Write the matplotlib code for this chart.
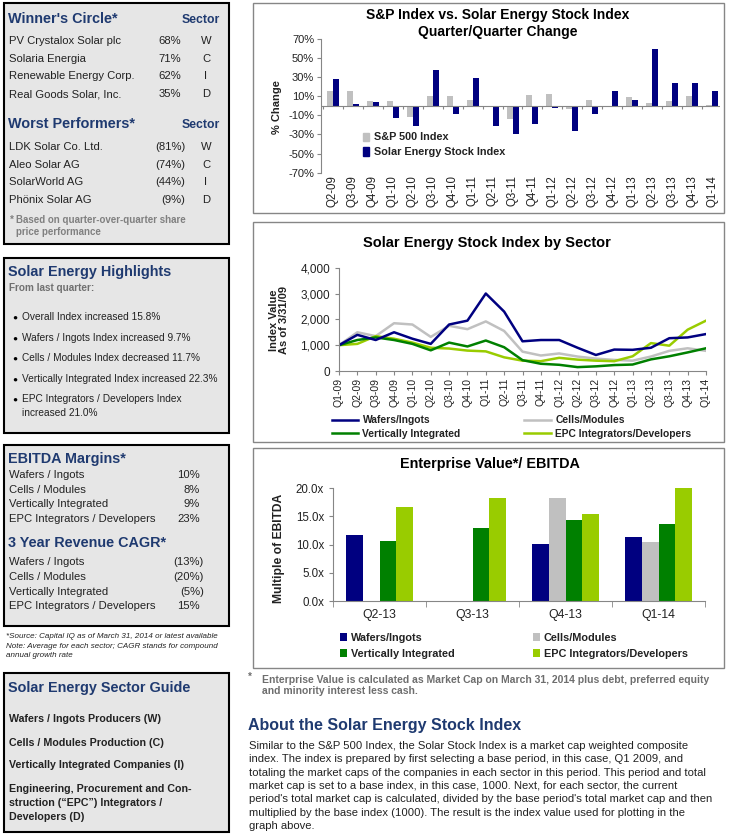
import numpy as np
import matplotlib
matplotlib.use('Agg')
import matplotlib.pyplot as plt
from matplotlib.patches import Rectangle, Patch
from matplotlib.ticker import FuncFormatter

plt.rcParams['font.family'] = ['Liberation Sans', 'DejaVu Sans']

# ------------------------------------------------------------
# data
# ------------------------------------------------------------
qoq_quarters = ['Q2-09', 'Q3-09', 'Q4-09', 'Q1-10', 'Q2-10', 'Q3-10', 'Q4-10',
                'Q1-11', 'Q2-11', 'Q3-11', 'Q4-11', 'Q1-12', 'Q2-12', 'Q3-12',
                'Q4-12', 'Q1-13', 'Q2-13', 'Q3-13', 'Q4-13', 'Q1-14']
sp500_change = [15, 15, 5, 5, -12, 10.5, 10, 5.5, 0, -14, 11, 12, -3, 5.5,
                -0.5, 9.5, 2.5, 5, 10, 1]
solar_change = [27.5, 1.7, 3.5, -12.5, -21, 37.6, -9, 28.6, -21, -30, -19, -2,
                -26, -8.4, 15.3, 5.6, 58.9, 23.7, 24, 15.8]

index_quarters = ['Q1-09'] + qoq_quarters
wafers_idx = [1000, 1400, 1200, 1500, 1250, 1050, 1800, 1950, 3000, 2300, 1150,
              1200, 1200, 900, 620, 830, 820, 900, 1270, 1300, 1430]
cells_idx = [1000, 1500, 1350, 1850, 1800, 1320, 1750, 1620, 1920, 1550, 750,
             600, 680, 560, 480, 430, 400, 560, 780, 880, 780]
vertical_idx = [1000, 1200, 1300, 1200, 1050, 800, 1100, 950, 1180, 920, 420,
                280, 240, 150, 180, 230, 250, 450, 570, 720, 880]
epc_idx = [1000, 1050, 1350, 1250, 1100, 900, 870, 790, 760, 530, 400, 380,
           510, 440, 400, 380, 570, 1080, 980, 1600, 1950]

ev_quarters = ['Q2-13', 'Q3-13', 'Q4-13', 'Q1-14']
ev_wafers = [11.8, np.nan, 10.2, 11.3]
ev_cells = [np.nan, np.nan, 18.3, 10.5]
ev_vertical = [10.7, 12.9, 14.4, 13.7]
ev_epc = [16.6, 18.3, 15.5, 20.1]

winners = ['PV Crystalox Solar plc', 'Solaria Energia', 'Renewable Energy Corp.',
           'Real Goods Solar, Inc.']
winners_pct = ['68%', '71%', '62%', '35%']
winners_sector = ['W', 'C', 'I', 'D']
losers = ['LDK Solar Co. Ltd.', 'Aleo Solar AG', 'SolarWorld AG', 'Phönix Solar AG']
losers_pct = ['(81%)', '(74%)', '(44%)', '(9%)']
losers_sector = ['W', 'C', 'I', 'D']

highlights = ['Overall Index increased 15.8%',
              'Wafers / Ingots Index increased 9.7%',
              'Cells / Modules Index decreased 11.7%',
              'Vertically Integrated Index increased 22.3%',
              'EPC Integrators / Developers Index\nincreased 21.0%']

sector_names = ['Wafers / Ingots', 'Cells / Modules', 'Vertically Integrated',
                'EPC Integrators / Developers']
ebitda_margin = ['10%', '8%', '9%', '23%']
revenue_cagr = ['(13%)', '(20%)', '(5%)', '15%']

guide_items = ['Wafers / Ingots Producers (W)',
               'Cells / Modules Production (C)',
               'Vertically Integrated Companies (I)',
               'Engineering, Procurement and Con-\nstruction (\u201cEPC\u201d) Integrators /\nDevelopers (D)']

about_lines = [
    'Similar to the S&P 500 Index, the Solar Stock Index is a market cap weighted composite',
    'index. The index is prepared by first selecting a base period, in this case, Q1 2009, and',
    'totaling the market caps of the companies in each sector in this period. This period and total',
    'market cap is set to a base index, in this case, 1000. Next, for each sector, the current',
    "period's total market cap is calculated, divided by the base period's total market cap and then",
    'multiplied by the base index (1000). The result is the index value used for plotting in the',
    'graph above.',
]

# colours
NAVY = '#000080'
GRAY = '#c0c0c0'
GREEN = '#008000'
LIME = '#99cc00'
HEAD = '#1f3a70'
PANEL = '#e6e6e6'
TXT = '#222222'
AXC = '#868686'

# ------------------------------------------------------------
# helpers working in pixels (top-left origin)
# ------------------------------------------------------------
W, H = 730, 838
fig = plt.figure(figsize=(W / 100, H / 100), dpi=100)


def box(x0, y0, x1, y1, fc, ec, lw):
    fig.patches.append(Rectangle((x0 / W, 1 - y1 / H), (x1 - x0) / W, (y1 - y0) / H,
                                 transform=fig.transFigure, facecolor=fc,
                                 edgecolor=ec, lw=lw, zorder=-5))


def txt(x, y, s, size, **kw):
    kw.setdefault('color', TXT)
    kw.setdefault('va', 'baseline')
    fig.text(x / W, 1 - y / H, s, fontsize=size, **kw)


def axes_px(x0, y0, x1, y1):
    return fig.add_axes([x0 / W, 1 - y1 / H, (x1 - x0) / W, (y1 - y0) / H])


HS = 10.4   # heading size in the side panels
RS = 8.1    # row size in the side panels

# ------------------------------------------------------------
# left column panels
# ------------------------------------------------------------
box(4, 3, 229, 244, PANEL, 'black', 1.5)
txt(8, 22.7, "Winner's Circle*", HS, weight='bold', color=HEAD)
txt(220, 22.7, 'Sector', 8.8, weight='bold', color=HEAD, ha='right')
for i, (n, p, s) in enumerate(zip(winners, winners_pct, winners_sector)):
    y = 44 + i * 17.7
    txt(9, y, n, RS)
    txt(181, y, p, RS, ha='right')
    txt(206, y, s, RS, ha='center')
txt(8, 128, 'Worst Performers*', HS, weight='bold', color=HEAD)
txt(220, 128, 'Sector', 8.8, weight='bold', color=HEAD, ha='right')
for i, (n, p, s) in enumerate(zip(losers, losers_pct, losers_sector)):
    y = 150 + i * 17.7
    txt(9, y, n, RS)
    txt(185, y, p, RS, ha='right')
    txt(206, y, s, RS, ha='center')
txt(10, 223, '*', 7, weight='bold', color='#808080')
txt(16, 223, 'Based on quarter-over-quarter share', 7, weight='bold', color='#808080')
txt(16, 235, 'price performance', 7, weight='bold', color='#808080')

box(4, 258, 229, 433, PANEL, 'black', 1.5)
txt(8, 276, 'Solar Energy Highlights', HS, weight='bold', color=HEAD)
txt(9, 291, 'From last quarter:', 7.2, weight='bold', color='#707070')
for i, h in enumerate(highlights):
    y = 320.3 + i * 20.5
    txt(15, y - 0.5, '\u25cf', 6, ha='center', color='black')
    for j, line in enumerate(h.split('\n')):
        txt(21.7, y + j * 14, line, 7.3)

box(4, 445, 229, 626, PANEL, 'black', 1.5)
txt(8, 463, 'EBITDA Margins*', HS, weight='bold', color=HEAD)
for i, (n, v) in enumerate(zip(sector_names, ebitda_margin)):
    y = 478 + i * 14.7
    txt(9, y, n, RS)
    txt(199.5, y, v, RS, ha='right')
txt(8, 547, '3 Year Revenue CAGR*', HS, weight='bold', color=HEAD)
for i, (n, v) in enumerate(zip(sector_names, revenue_cagr)):
    y = 565 + i * 14.8
    txt(9, y, n, RS)
    # bracketed negatives hang a little to the right
    txt(204 if v.startswith('(') else 199.5, y, v, RS, ha='right')

txt(6, 638, '*Source: Capital IQ as of March 31, 2014 or latest available', 5.8, style='italic')
txt(6, 647.5, 'Note: Average for each sector; CAGR stands for compound', 5.8, style='italic')
txt(6, 657, 'annual growth rate', 5.8, style='italic')

box(4, 673, 229, 832, PANEL, 'black', 1.5)
txt(8, 692, 'Solar Energy Sector Guide', 10.4, weight='bold', color=HEAD)
gy = [722, 746, 768, 792]
for y, g in zip(gy, guide_items):
    for j, line in enumerate(g.split('\n')):
        txt(9, y + j * 14, line, 7.7, weight='bold')

# ------------------------------------------------------------
# chart 1: quarter / quarter change
# ------------------------------------------------------------
box(253, 3, 724, 213, 'white', AXC, 1)
txt(498, 19.3, 'S&P Index vs. Solar Energy Stock Index', 10, weight='bold',
    color='black', ha='center')
txt(498, 35.7, 'Quarter/Quarter Change', 10, weight='bold', color='black', ha='center')

ax1 = axes_px(321, 38.7, 720, 172.7)
x = np.arange(len(qoq_quarters))
ax1.bar(x - 0.15, sp500_change, 0.3, color=GRAY)
ax1.bar(x + 0.15, solar_change, 0.3, color=NAVY)
ax1.set_xlim(-0.6, 19.4)
ax1.set_ylim(-70, 70)
ax1.set_yticks(range(-70, 71, 20))
ax1.yaxis.set_major_formatter(FuncFormatter(lambda v, p: f'{v:.0f}%'))
ax1.axhline(0, color=AXC, lw=0.8)
ax1.vlines(np.arange(len(x) + 1) - 0.5, -3.5, 0, color=AXC, lw=0.8)
ax1.set_xticks(x)
ax1.set_xticklabels(qoq_quarters, rotation=90, fontsize=8.3, color=TXT)
ax1.tick_params(axis='x', length=0, pad=2)
ax1.tick_params(axis='y', labelsize=8, labelcolor=TXT, length=3, color=AXC, pad=2)
for s in ['top', 'right', 'bottom']:
    ax1.spines[s].set_visible(False)
ax1.spines['left'].set_color(AXC)
ax1.patch.set_alpha(0)
fig.text(277 / W, 1 - 107 / H, '% Change', rotation=90, ha='center', va='center',
         fontsize=8, weight='bold', color=TXT)
ax1.legend(handles=[Patch(color=GRAY, label='S&P 500 Index'),
                    Patch(color=NAVY, label='Solar Energy Stock Index')],
           loc='upper left', bbox_to_anchor=(0.105, 0.3), frameon=False,
           prop={'size': 7.8, 'weight': 'bold'}, handlelength=0.6, handleheight=0.8,
           handletextpad=0.4, labelspacing=0.45, borderaxespad=0, borderpad=0,
           labelcolor=TXT)

# ------------------------------------------------------------
# chart 2: index by sector
# ------------------------------------------------------------
box(253, 222, 724, 442, 'white', AXC, 1)
txt(487, 246.7, 'Solar Energy Stock Index by Sector', 10.5, weight='bold',
    color='black', ha='center')
ax2 = axes_px(339, 267.7, 706, 371)
xi = np.arange(len(index_quarters))
l_c, = ax2.plot(xi, cells_idx, color=GRAY, lw=1.8, label='Cells/Modules')
l_e, = ax2.plot(xi, epc_idx, color=LIME, lw=1.8, label='EPC Integrators/Developers')
l_v, = ax2.plot(xi, vertical_idx, color=GREEN, lw=1.8, label='Vertically Integrated')
l_w, = ax2.plot(xi, wafers_idx, color=NAVY, lw=1.8, label='Wafers/Ingots')
ax2.set_xlim(0, 20)
ax2.set_ylim(0, 4000)
ax2.set_yticks(range(0, 4001, 1000))
ax2.yaxis.set_major_formatter(FuncFormatter(lambda v, p: f'{v:,.0f}'))
ax2.set_xticks(xi)
ax2.set_xticklabels(index_quarters, rotation=90, fontsize=7.5, color=TXT)
ax2.tick_params(axis='x', length=3, color=AXC, pad=2)
ax2.tick_params(axis='y', labelsize=8.5, labelcolor=TXT, length=3, color=AXC)
for s in ['top', 'right']:
    ax2.spines[s].set_visible(False)
ax2.spines['left'].set_color(AXC)
ax2.spines['bottom'].set_color(AXC)
ax2.patch.set_alpha(0)
fig.text(279 / W, 1 - 320 / H, 'Index Value\nAs of 3/31/09', rotation=90, ha='center',
         va='center', fontsize=8, weight='bold', color=TXT, linespacing=1.05)
ax2.legend(handles=[l_w, l_v, l_c, l_e], ncol=2, loc='upper left',
           bbox_to_anchor=(-0.02, -0.43), frameon=False,
           prop={'size': 7.4, 'weight': 'bold'}, handlelength=2.6,
           handletextpad=0.4, labelspacing=0.3, columnspacing=6.2,
           borderaxespad=0, borderpad=0, labelcolor=TXT)

# ------------------------------------------------------------
# chart 3: EV / EBITDA
# ------------------------------------------------------------
box(253, 448, 724, 668, 'white', AXC, 1)
txt(490, 468.3, 'Enterprise Value*/ EBITDA', 10.4, weight='bold', color='black',
    ha='center')
ax3 = axes_px(333, 488.3, 705, 601)
xe = np.arange(len(ev_quarters))
bw = 0.18
ax3.bar(xe - 1.5 * bw, ev_wafers, bw, color=NAVY, label='Wafers/Ingots')
ax3.bar(xe - 0.5 * bw, ev_cells, bw, color=GRAY, label='Cells/Modules')
ax3.bar(xe + 0.5 * bw, ev_vertical, bw, color=GREEN, label='Vertically Integrated')
ax3.bar(xe + 1.5 * bw, ev_epc, bw, color=LIME, label='EPC Integrators/Developers')
ax3.set_xlim(-0.5, 3.5)
ax3.set_ylim(0, 20)
ax3.set_yticks(range(0, 21, 5))
ax3.yaxis.set_major_formatter(FuncFormatter(lambda v, p: f'{v:.1f}x'))
ax3.set_xticks(xe)
ax3.set_xticklabels(ev_quarters, fontsize=8.8, color=TXT)
ax3.set_xticks(np.arange(-0.5, 4), minor=True)
ax3.tick_params(axis='x', which='major', length=0, pad=6)
ax3.tick_params(axis='x', which='minor', length=4, color=AXC)
ax3.tick_params(axis='y', labelsize=8.3, labelcolor=TXT, length=3, color=AXC)
for s in ['top', 'right']:
    ax3.spines[s].set_visible(False)
ax3.spines['left'].set_color(AXC)
ax3.spines['bottom'].set_color(AXC)
ax3.patch.set_alpha(0)
fig.text(279 / W, 1 - 548 / H, 'Multiple of EBITDA', rotation=90, ha='center',
         va='center', fontsize=8.7, weight='bold', color=TXT)
h3, lb3 = ax3.get_legend_handles_labels()
ax3.legend([h3[0], h3[2], h3[1], h3[3]], [lb3[0], lb3[2], lb3[1], lb3[3]], ncol=2,
           loc='upper left', bbox_to_anchor=(0.02, -0.28), frameon=False,
           prop={'size': 7.8, 'weight': 'bold'}, handlelength=0.6, handleheight=0.8,
           handletextpad=0.4, labelspacing=0.55, columnspacing=7.2,
           borderaxespad=0, borderpad=0, labelcolor=TXT)

# footnote and about text
txt(248, 680, '*', 7, weight='bold', color='#6e6e6e')
txt(261.7, 682.7, 'Enterprise Value is calculated as Market Cap on March 31, 2014 plus debt, preferred equity',
    7.5, weight='bold', color='#6e6e6e')
txt(261.7, 694, 'and minority interest less cash.', 7.5, weight='bold', color='#6e6e6e')

txt(248, 730, 'About the Solar Energy Stock Index', 11.5, weight='bold', color=HEAD)
for i, line in enumerate(about_lines):
    txt(249, 749 + i * 13.3, line, 8.1)

fig.savefig('out.png', dpi=100)
